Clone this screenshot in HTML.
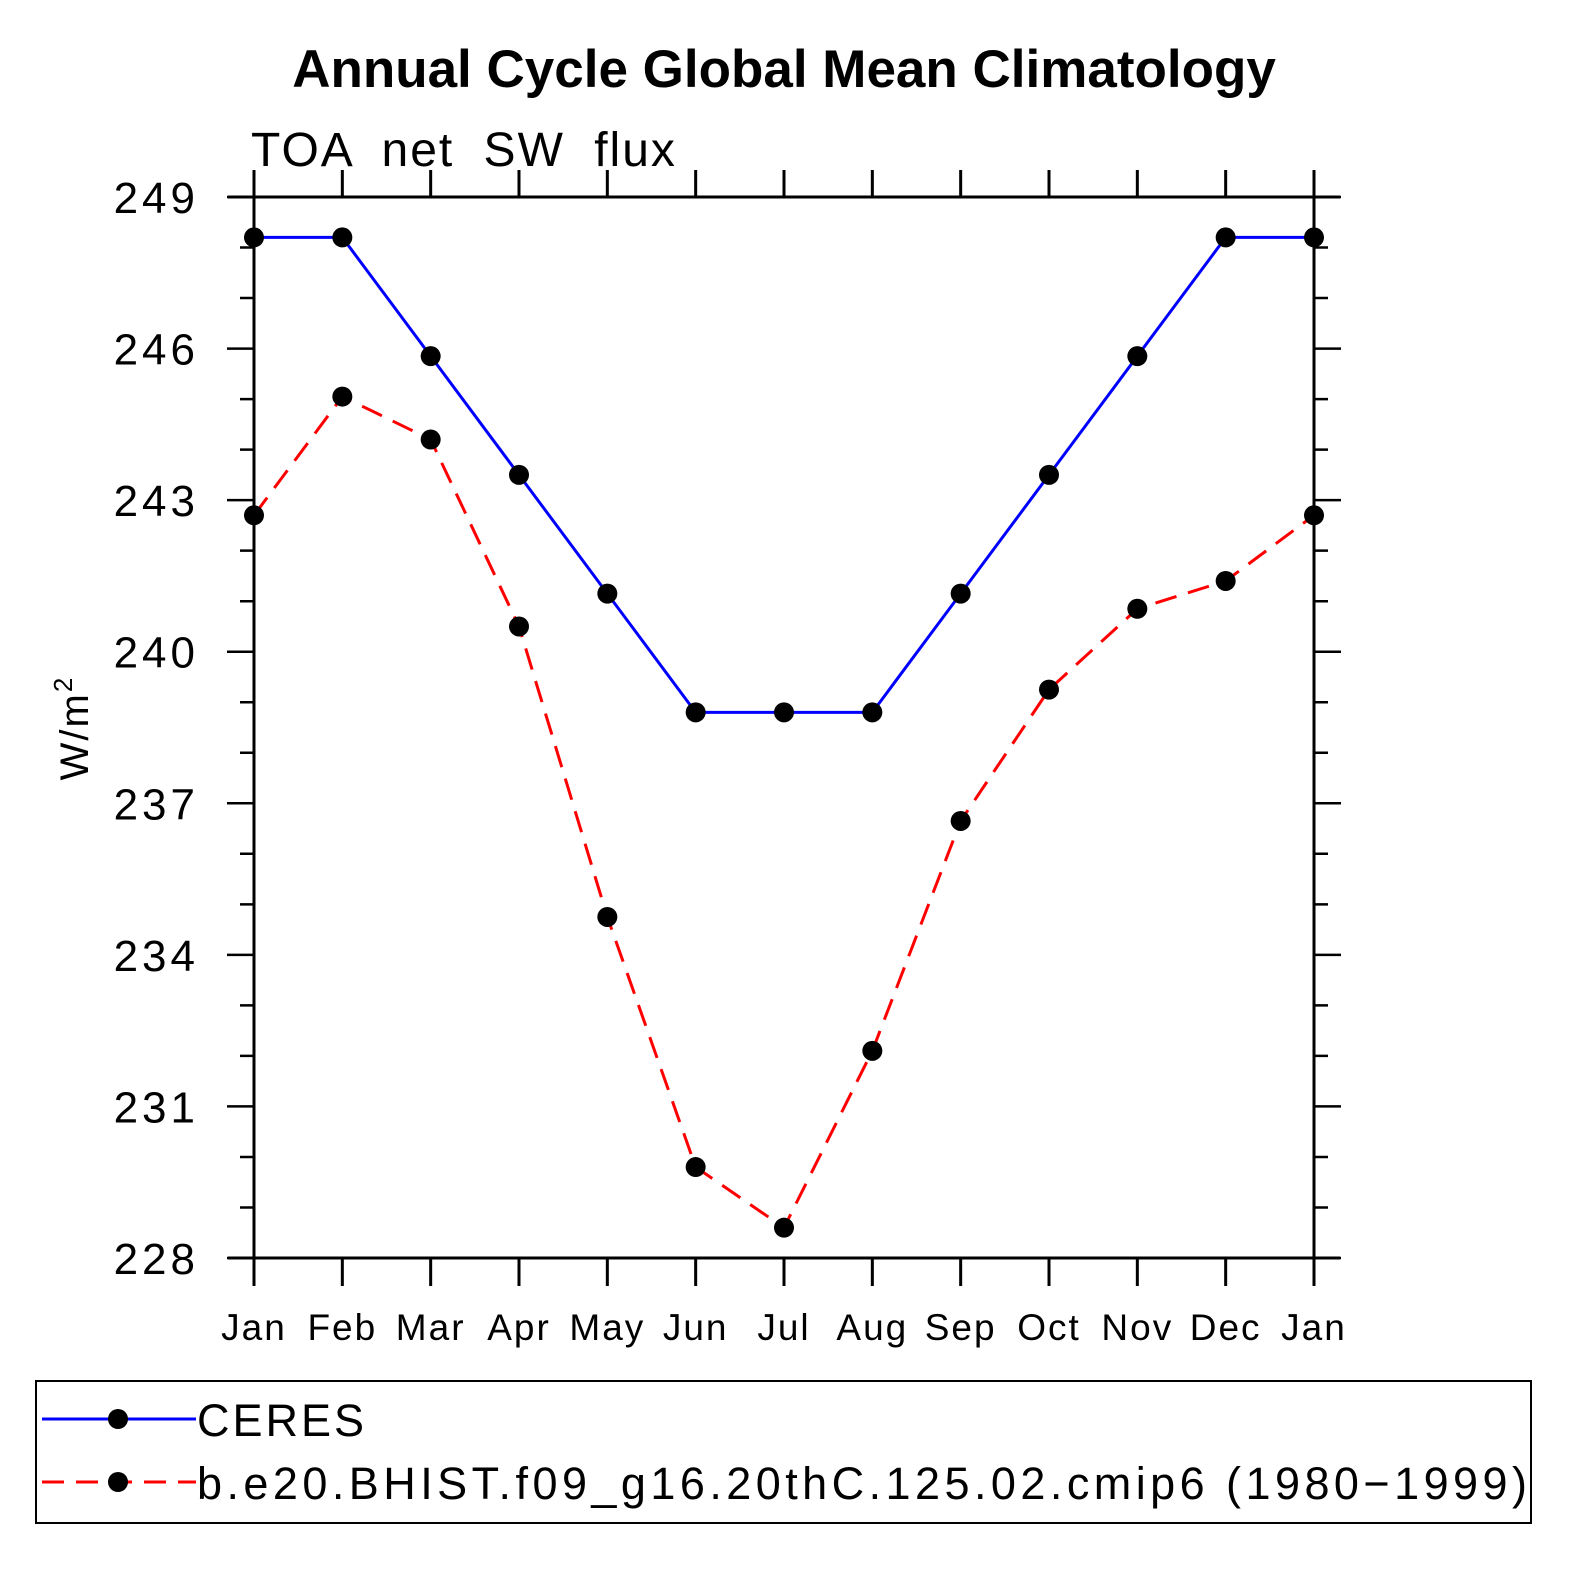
<!DOCTYPE html>
<html><head><meta charset="utf-8"><style>
html,body{margin:0;padding:0;background:#fff;overflow:hidden;width:1574px;height:1574px;}
svg{display:block;font-family:"Liberation Sans",sans-serif;}
</style></head><body>
<svg id="chart" width="1574" height="1574" viewBox="0 0 1574 1574">
<text x="784" y="87" text-anchor="middle" font-size="53" font-weight="bold">Annual Cycle Global Mean Climatology</text>
<text x="251" y="166" font-size="48" letter-spacing="2" word-spacing="14">TOA net SW flux</text>
<text transform="translate(88,728) rotate(-90)" text-anchor="middle" font-size="40" letter-spacing="2">W/m<tspan dy="-16" font-size="26">2</tspan></text>
<g id="axes"></g>
<g id="series"></g>
<rect x="36" y="1381" width="1495" height="142" fill="none" stroke="#000" stroke-width="2"/>
<g>
<line x1="42" y1="1419" x2="196" y2="1419" stroke="#00f" stroke-width="3"/>
<circle cx="118" cy="1419" r="10" fill="#000"/>
<text x="197" y="1436" font-size="45" letter-spacing="3">CERES</text>
</g>
<g>
<line x1="42" y1="1482" x2="196" y2="1482" stroke="#f00" stroke-width="3" stroke-dasharray="22,12"/>
<circle cx="118" cy="1482" r="10" fill="#000"/>
<text x="197" y="1499" font-size="45" textLength="1330" lengthAdjust="spacing">b.e20.BHIST.f09_g16.20thC.125.02.cmip6 (1980−1999)</text>
</g>
</svg>
<script>
const months = ["Jan","Feb","Mar","Apr","May","Jun","Jul","Aug","Sep","Oct","Nov","Dec","Jan"];
const ceres = [248.2,248.2,245.85,243.5,241.15,238.8,238.8,238.8,241.15,243.5,245.85,248.2,248.2];
const model = [242.7,245.05,244.2,240.5,234.75,229.8,228.6,232.1,236.65,239.25,240.85,241.4,242.7];
const yTicks = [228,231,234,237,240,243,246,249];
const yMin = 228, yMax = 249;
const X0=254, X1=1314, Y0=1258, Y1=197;
const NS="http://www.w3.org/2000/svg";
function xs(i){return X0+(X1-X0)*i/(months.length-1);}
function ys(v){return Y0-(Y0-Y1)*(v-yMin)/(yMax-yMin);}
function mk(tag,attrs,parent){const e=document.createElementNS(NS,tag);for(const k in attrs)e.setAttribute(k,attrs[k]);parent.appendChild(e);return e;}
const ax=document.getElementById('axes');
let f=mk('path',{d:`M${X0-26} ${Y1}H${X1+26}M${X0-26} ${Y0}H${X1+26}M${X0} ${Y1-27}V${Y0+27}M${X1} ${Y1-27}V${Y0+27}`,stroke:'#000','stroke-width':3,fill:'none'},ax);


months.forEach((m,i)=>{
  const x=xs(i);
  const t=mk('path',{d:`M${x} ${Y1-27}V${Y1}M${x} ${Y0}V${Y0+28}`,stroke:'#000','stroke-width':3},ax);
  
  
  const l=mk('text',{x:x,y:1340,'text-anchor':'middle','font-size':37,'letter-spacing':2},ax);
  l.textContent=m;
  
  
});
for(let v=yMin; v<=yMax; v++){
  const y=ys(v), major=yTicks.includes(v);
  const len=major?27:14;
  const t=mk('path',{d:`M${X0-len} ${y}H${X0}M${X1} ${y}H${X1+len}`,stroke:'#000','stroke-width':2.5},ax);
  
  
}
yTicks.forEach(v=>{
  const l=mk('text',{x:199,y:ys(v)+16,'text-anchor':'end','font-size':44,'letter-spacing':4},ax);
  l.textContent=v;
  
  
});
const sg=document.getElementById('series');
function drawSeries(vals,color,dash,name){
  const g=mk('g',{},sg);
  
  
  const pts=vals.map((v,i)=>xs(i)+','+ys(v)).join(' ');
  const pl=mk('polyline',{points:pts,fill:'none',stroke:color,'stroke-width':3},g);
  if(dash)pl.setAttribute('stroke-dasharray',dash);
  
  
  vals.forEach((v,i)=>{
    const c=mk('circle',{cx:xs(i),cy:ys(v),r:10,fill:'#000'},g);
    
    
  });
}
drawSeries(ceres,'#00f',null,'ceres-series');
drawSeries(model,'#f00','22,12','model-series');
</script>
</body></html>
